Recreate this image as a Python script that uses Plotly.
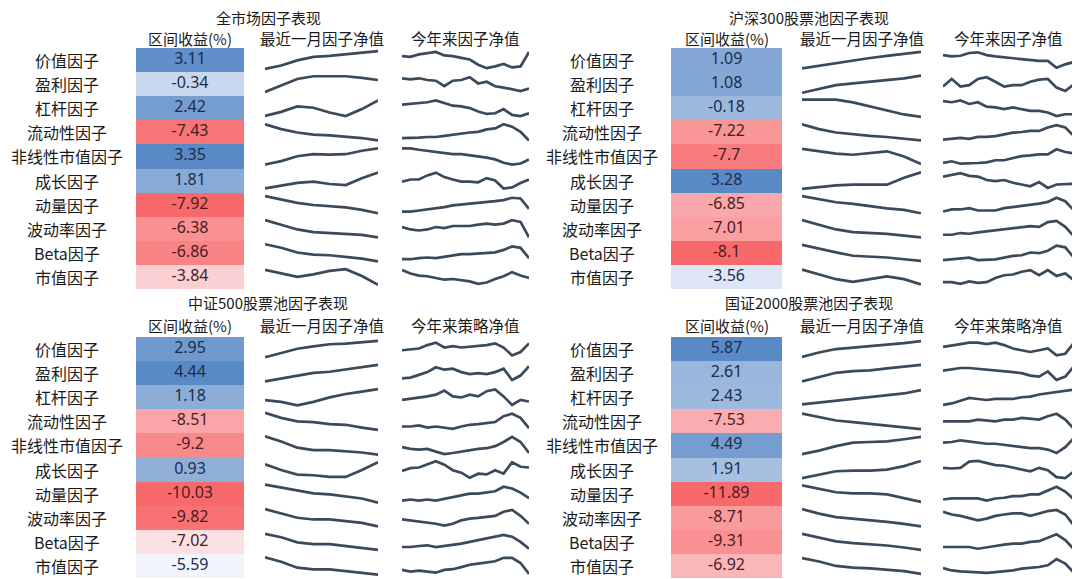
import numpy as np
import plotly.graph_objects as go

W, H = 1080, 579
PAGE_MARGIN = 8  # browser body margin around the plot div

# ================= DATA ===================
factors = ["价值因子", "盈利因子", "杠杆因子", "流动性因子", "非线性市值因子",
           "成长因子", "动量因子", "波动率因子", "Beta因子", "市值因子"]

titles = ["全市场因子表现", "沪深300股票池因子表现", "中证500股票池因子表现", "国证2000股票池因子表现"]
ret_header = "区间收益(%)"
month_header = "最近一月因子净值"
ytd_headers = ["今年来因子净值", "今年来因子净值", "今年来策略净值", "今年来策略净值"]

# interval returns (%)
ret_all = [3.11, -0.34, 2.42, -7.43, 3.35, 1.81, -7.92, -6.38, -6.86, -3.84]
ret_hs300 = [1.09, 1.08, -0.18, -7.22, -7.7, 3.28, -6.85, -7.01, -8.1, -3.56]
ret_zz500 = [2.95, 4.44, 1.18, -8.51, -9.2, 0.93, -10.03, -9.82, -7.02, -5.59]
ret_gz2000 = [5.87, 2.61, 2.43, -7.53, 4.49, 1.91, -11.89, -8.71, -9.31, -6.92]

# sparkline levels (relative units, one list per factor)
month_all = [
    [5, 15, 30, 40, 43, 47, 52, 57],
    [12, 30, 50, 58, 58, 58, 53, 47],
    [10, 22, 38, 34, 20, 10, 30, 55],
    [57, 43, 33, 27, 25, 22, 17, 10],
    [8, 18, 32, 38, 37, 38, 48, 55],
    [7, 15, 23, 27, 20, 17, 37, 53],
    [58, 48, 38, 32, 28, 25, 18, 8],
    [55, 42, 28, 20, 18, 15, 12, 5],
    [52, 42, 28, 22, 20, 15, 10, 2],
    [48, 38, 28, 35, 45, 50, 30, 5],
]
ytd_all = [
    [45, 43, 50, 53, 57, 47, 45, 40, 35, 20, 10, 15, 22, 12, 15, 57],
    [55, 52, 55, 50, 48, 32, 48, 50, 58, 40, 45, 32, 28, 22, 18, 25],
    [45, 47, 48, 52, 57, 50, 42, 40, 35, 25, 18, 20, 32, 15, 12, 20],
    [17, 17, 18, 20, 20, 23, 27, 30, 33, 35, 42, 45, 57, 50, 35, 10],
    [52, 52, 48, 45, 42, 38, 35, 35, 32, 28, 25, 20, 10, 5, 8, 20],
    [27, 33, 33, 45, 53, 40, 33, 27, 27, 25, 37, 30, 7, 10, 23, 33],
    [12, 12, 15, 18, 20, 25, 30, 32, 34, 38, 38, 42, 45, 52, 50, 20],
    [35, 28, 25, 28, 35, 32, 38, 38, 38, 42, 45, 42, 45, 55, 50, 5],
    [15, 15, 18, 20, 18, 22, 28, 30, 30, 32, 35, 35, 42, 52, 48, 18],
    [48, 38, 32, 30, 25, 20, 22, 18, 15, 8, 12, 22, 30, 42, 32, 25],
]

month_hs300 = [
    [7, 15, 23, 30, 37, 43, 50, 55],
    [8, 18, 30, 35, 40, 45, 50, 58],
    [58, 58, 58, 50, 38, 25, 15, 8],
    [57, 43, 33, 27, 23, 20, 15, 10],
    [52, 45, 38, 35, 40, 45, 30, 8],
    [5, 10, 15, 17, 17, 17, 37, 53],
    [58, 48, 40, 35, 28, 22, 18, 8],
    [55, 42, 28, 20, 18, 15, 10, 5],
    [52, 40, 30, 20, 18, 15, 10, 5],
    [48, 35, 20, 12, 20, 28, 20, 5],
]
ytd_hs300 = [
    [47, 43, 45, 53, 55, 47, 43, 40, 37, 35, 33, 30, 30, 10, 20, 27],
    [28, 50, 28, 32, 50, 55, 42, 28, 32, 32, 42, 48, 50, 25, 15, 35],
    [58, 55, 60, 50, 55, 42, 40, 35, 40, 35, 30, 30, 25, 15, 20, 20],
    [15, 17, 20, 17, 23, 23, 25, 30, 35, 37, 40, 40, 50, 57, 50, 25],
    [10, 15, 8, 8, 10, 12, 18, 18, 25, 30, 32, 35, 35, 50, 42, 38],
    [43, 47, 53, 45, 43, 33, 30, 33, 25, 20, 15, 27, 10, 20, 20, 22],
    [12, 18, 18, 22, 15, 15, 15, 22, 25, 30, 32, 35, 40, 52, 42, 15],
    [15, 15, 20, 18, 22, 25, 28, 30, 35, 38, 40, 38, 52, 55, 38, 10],
    [8, 10, 12, 15, 8, 10, 10, 15, 20, 22, 30, 28, 35, 50, 45, 15],
    [10, 10, 5, 12, 8, 10, 22, 30, 32, 40, 45, 30, 45, 28, 35, 15],
]

month_zz500 = [
    [5, 17, 30, 37, 43, 45, 49, 53],
    [5, 13, 23, 30, 33, 40, 47, 53],
    [20, 15, 5, 15, 28, 38, 45, 52],
    [55, 40, 30, 28, 22, 20, 12, 5],
    [60, 45, 27, 20, 20, 17, 13, 7],
    [47, 30, 17, 15, 10, 10, 30, 53],
    [60, 52, 42, 35, 32, 25, 20, 8],
    [55, 42, 30, 25, 25, 20, 15, 5],
    [55, 45, 30, 25, 25, 20, 15, 8],
    [55, 42, 25, 20, 20, 15, 10, 5],
]
ytd_zz500 = [
    [25, 27, 30, 40, 47, 33, 37, 33, 35, 37, 40, 45, 33, 10, 20, 45],
    [15, 17, 25, 33, 47, 40, 43, 33, 27, 30, 27, 33, 43, 10, 23, 50],
    [25, 28, 30, 35, 40, 52, 35, 32, 40, 35, 50, 55, 35, 10, 25, 20],
    [15, 15, 18, 12, 15, 12, 8, 15, 20, 22, 25, 28, 45, 52, 40, 10],
    [30, 25, 23, 25, 17, 10, 13, 17, 23, 25, 27, 33, 45, 60, 45, 13],
    [25, 33, 35, 45, 53, 43, 27, 20, 5, 17, 15, 27, 17, 50, 37, 35],
    [15, 18, 15, 18, 15, 20, 25, 32, 35, 35, 38, 42, 55, 50, 38, 22],
    [28, 25, 20, 18, 15, 10, 15, 25, 30, 32, 35, 38, 50, 55, 38, 15],
    [15, 15, 18, 20, 15, 18, 22, 25, 30, 35, 38, 45, 50, 45, 30, 10],
    [20, 15, 18, 15, 12, 20, 22, 28, 35, 38, 42, 45, 55, 55, 40, 8],
]

month_gz2000 = [
    [7, 20, 30, 35, 40, 43, 47, 53],
    [5, 17, 30, 35, 37, 43, 47, 53],
    [10, 15, 20, 25, 30, 35, 42, 52],
    [50, 40, 30, 25, 20, 15, 12, 5],
    [10, 20, 33, 43, 45, 47, 53, 60],
    [5, 15, 25, 27, 27, 30, 40, 55],
    [58, 48, 38, 35, 35, 32, 22, 10],
    [55, 42, 32, 28, 22, 18, 12, 5],
    [52, 42, 30, 25, 22, 18, 12, 5],
    [48, 38, 25, 20, 18, 15, 10, 2],
]
ytd_gz2000 = [
    [35, 40, 43, 47, 47, 43, 47, 40, 30, 25, 20, 25, 30, 10, 15, 47],
    [37, 40, 45, 45, 43, 40, 37, 37, 33, 30, 23, 20, 35, 10, 20, 50],
    [8, 12, 20, 28, 25, 22, 25, 25, 25, 30, 32, 38, 42, 45, 48, 52],
    [30, 30, 32, 30, 35, 32, 30, 35, 35, 40, 38, 35, 45, 52, 35, 8],
    [43, 45, 50, 47, 45, 40, 40, 37, 35, 30, 27, 27, 23, 13, 30, 57],
    [37, 35, 37, 55, 57, 50, 45, 43, 37, 33, 27, 37, 30, 10, 7, 27],
    [15, 18, 18, 18, 18, 12, 18, 20, 25, 25, 30, 30, 40, 52, 38, 15],
    [50, 42, 38, 32, 25, 30, 38, 42, 45, 45, 38, 45, 52, 55, 42, 10],
    [15, 15, 15, 15, 10, 15, 18, 22, 25, 25, 30, 32, 42, 52, 35, 8],
    [22, 15, 12, 10, 8, 8, 10, 12, 15, 20, 22, 25, 30, 48, 35, 8],
]

returns = [ret_all, ret_hs300, ret_zz500, ret_gz2000]
months = [month_all, month_hs300, month_zz500, month_gz2000]
ytds = [ytd_all, ytd_hs300, ytd_zz500, ytd_gz2000]

# ================= LAYOUT (page pixels) ===================
ROW = 24.1
panels = [
    dict(tx=268, ty=17, hy=38, top=48, name_x=67, heat=(136, 244), month=(265, 378), ytd=(402, 529)),
    dict(tx=809, ty=17, hy=38, top=48, name_x=602, heat=(671, 782), month=(802, 921), ytd=(943, 1074)),
    dict(tx=268, ty=302, hy=325, top=337, name_x=67, heat=(136, 244), month=(265, 378), ytd=(402, 529)),
    dict(tx=809, ty=302, hy=325, top=337, name_x=602, heat=(671, 782), month=(802, 921), ytd=(943, 1074)),
]

RED, WHITE, BLUE = "#F8696B", "#FCFCFF", "#5A8AC6"
LINE = "#3B4A5B"
FONT = "Noto Sans CJK SC"
TXT = "#1a1a1a"

FW, FH = W - PAGE_MARGIN, H - PAGE_MARGIN
fig = go.Figure()
layout = dict(width=FW, height=FH, margin=dict(l=0, r=0, t=0, b=0),
              paper_bgcolor="white", plot_bgcolor="white", showlegend=False,
              hovermode=False, annotations=[])
n_ax = 0


def fx(x):
    return (x - PAGE_MARGIN) / FW


def fy(y):
    return 1 - (y - PAGE_MARGIN) / FH


def add_axes(x0, x1, y0, y1, xr, yr):
    global n_ax
    n_ax += 1
    sfx = "" if n_ax == 1 else str(n_ax)
    hidden = dict(visible=False, showgrid=False, zeroline=False, fixedrange=True)
    layout["xaxis" + sfx] = dict(domain=[fx(x0), fx(x1)], range=xr, anchor="y" + sfx, **hidden)
    layout["yaxis" + sfx] = dict(domain=[fy(y1), fy(y0)], range=yr, anchor="x" + sfx, **hidden)
    return "x" + sfx, "y" + sfx


def note(text, x, y, size=16, color=TXT):
    layout["annotations"].append(dict(
        text=text, x=fx(x), y=fy(y), xref="paper", yref="paper",
        showarrow=False, xanchor="center", yanchor="middle",
        font=dict(family=FONT, size=size, color=color)))


for p, geo in enumerate(panels):
    vals = returns[p]
    top = geo["top"]
    bottom = min(top + ROW * len(factors), H)

    note(titles[p], geo["tx"], geo["ty"], size=15)
    note(ret_header, sum(geo["heat"]) / 2, geo["hy"], size=15)
    note(month_header, sum(geo["month"]) / 2, geo["hy"], size=15.5)
    note(ytd_headers[p], sum(geo["ytd"]) / 2, geo["hy"], size=15.5)
    for i, name in enumerate(factors):
        note(name, geo["name_x"], top + ROW * (i + 0.5))

    # return column as a one-column heatmap, Excel style 3-colour scale (median = white)
    zmin, zmax, zmid = min(vals), max(vals), float(np.median(vals))
    mid = (zmid - zmin) / (zmax - zmin)
    xa, ya = add_axes(geo["heat"][0], geo["heat"][1], top, bottom, [-0.5, 0.5], [len(vals) - 0.5, -0.5])
    fig.add_trace(go.Heatmap(
        z=[[v] for v in vals], x=[0], y=list(range(len(vals))),
        zmin=zmin, zmax=zmax, showscale=False,
        colorscale=[[0, RED], [mid, WHITE], [1, BLUE]],
        xaxis=xa, yaxis=ya, hoverinfo="skip"))
    fig.add_trace(go.Scatter(
        x=[0] * len(vals), y=list(range(len(vals))), mode="text",
        text=[f"{v:g}" for v in vals],
        textfont=dict(family="Noto Sans", size=16,
                      color=["#1d2c4c" if v >= zmid else "#4a1d1d" for v in vals]),
        xaxis=xa, yaxis=ya, hoverinfo="skip"))

    # sparklines
    for col, series_set in (("month", months[p]), ("ytd", ytds[p])):
        x0, x1 = geo[col]
        for i, s in enumerate(series_set):
            c = (max(s) + min(s)) / 2
            xa, ya = add_axes(x0, x1, top + ROW * i, top + ROW * (i + 1),
                              [0, len(s) - 1], [c - 35, c + 35])
            fig.add_trace(go.Scatter(
                y=s, mode="lines", line=dict(color=LINE, width=2.7),
                xaxis=xa, yaxis=ya, hoverinfo="skip"))

fig.update_layout(**layout)
fig.write_html("out.html")
